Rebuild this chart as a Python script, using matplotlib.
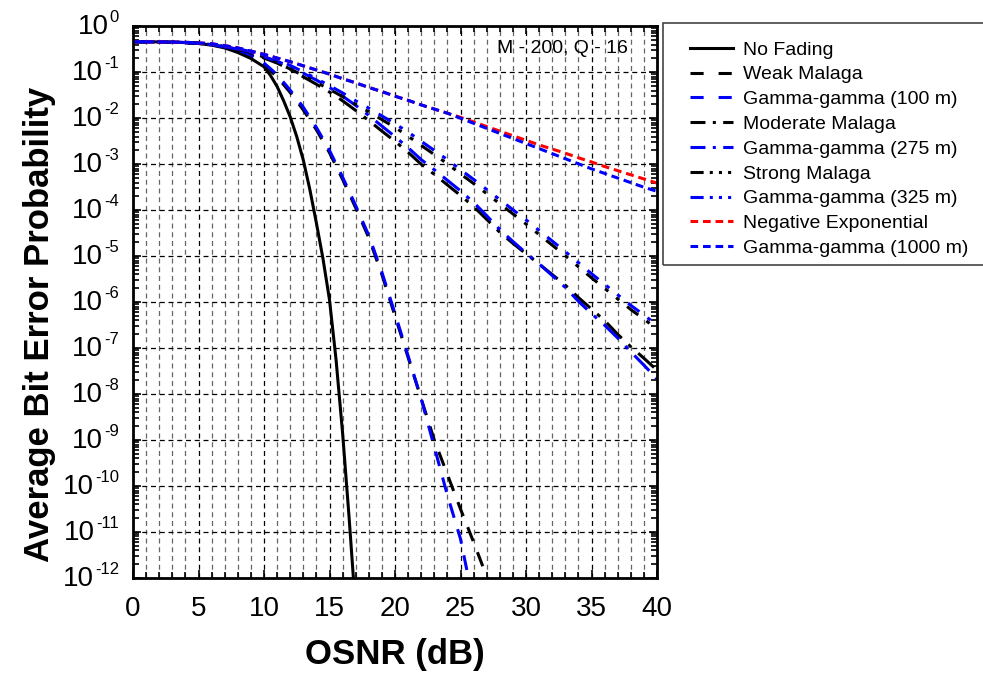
import numpy as np
import matplotlib
matplotlib.use("Agg")
import matplotlib.pyplot as plt
from matplotlib.ticker import FixedLocator, LogLocator, NullFormatter, MultipleLocator
from matplotlib.patches import Rectangle
from matplotlib.lines import Line2D

plt.rcParams['font.family'] = ['Liberation Sans', 'DejaVu Sans']
plt.rcParams['axes.unicode_minus'] = False

# ---------------- data (log10 of average BER) ----------------
x_nofading = [0, 1, 2, 3, 4, 5, 6, 7, 8, 9, 10, 10.5, 11, 11.5, 12, 12.5, 13, 13.5, 14, 14.5, 15, 15.5, 16, 16.5, 17]
nofading_log = [-0.335, -0.337, -0.34, -0.345, -0.355, -0.375, -0.41, -0.47, -0.57, -0.70, -0.88, -1.07, -1.31, -1.62,
                -1.97, -2.4, -2.91, -3.55, -4.28, -5.05, -5.95, -7.25, -8.85, -10.7, -12.7]

x_weak = list(range(0, 29))
weak_log = [-0.335, -0.337, -0.34, -0.345, -0.353, -0.37, -0.4, -0.45, -0.53, -0.65, -0.84, -1.1, -1.44, -1.82,
            -2.25, -2.75, -3.33, -3.95, -4.6, -5.4, -6.3, -7.2, -8.1, -9.0, -9.75, -10.5, -11.22, -11.97, -12.7]

x_gg100 = list(range(0, 27))
gg100_log = [-0.335, -0.337, -0.34, -0.345, -0.353, -0.37, -0.4, -0.45, -0.52, -0.62, -0.8, -1.05, -1.39, -1.76,
             -2.2, -2.7, -3.28, -3.9, -4.55, -5.35, -6.25, -7.17, -8.1, -9.15, -10.2, -11.15, -12.55]

x_mid = list(range(0, 41))
moderate_log = [-0.335, -0.337, -0.34, -0.345, -0.353, -0.37, -0.4, -0.44, -0.51, -0.59, -0.69, -0.8, -0.94,
                -1.1, -1.26, -1.43, -1.62, -1.83, -2.05, -2.28, -2.5, -2.74, -3.0, -3.22, -3.45, -3.68, -3.92,
                -4.2, -4.48, -4.72, -4.95, -5.17, -5.4, -5.63, -5.9, -6.15, -6.4, -6.7, -6.97, -7.22, -7.48]
gg275_log = [-0.335, -0.337, -0.34, -0.345, -0.353, -0.37, -0.4, -0.44, -0.5, -0.57, -0.66, -0.76, -0.88,
             -1.02, -1.17, -1.33, -1.52, -1.72, -1.94, -2.17, -2.4, -2.64, -2.9, -3.12, -3.35, -3.58, -3.83,
             -4.12, -4.42, -4.68, -4.93, -5.17, -5.42, -5.68, -5.98, -6.25, -6.5, -6.78, -7.08, -7.37, -7.67]
strong_log = [-0.335, -0.337, -0.34, -0.345, -0.353, -0.37, -0.4, -0.44, -0.5, -0.57, -0.67, -0.79, -0.93,
              -1.07, -1.22, -1.37, -1.53, -1.7, -1.86, -2.03, -2.2, -2.39, -2.59, -2.79, -2.99, -3.21, -3.42,
              -3.64, -3.86, -4.08, -4.3, -4.53, -4.76, -4.99, -5.23, -5.47, -5.7, -5.93, -6.16, -6.37, -6.58]
gg325_log = [-0.335, -0.337, -0.34, -0.345, -0.353, -0.37, -0.4, -0.44, -0.49, -0.55, -0.63, -0.73, -0.85,
             -0.99, -1.14, -1.29, -1.45, -1.62, -1.78, -1.95, -2.12, -2.3, -2.5, -2.7, -2.9, -3.12, -3.33,
             -3.55, -3.77, -3.99, -4.21, -4.44, -4.67, -4.9, -5.14, -5.38, -5.61, -5.84, -6.07, -6.28, -6.5]
negexp_log = [-0.335, -0.336, -0.338, -0.342, -0.348, -0.36, -0.38, -0.42, -0.47, -0.54, -0.61, -0.69, -0.77,
              -0.86, -0.95, -1.04, -1.14, -1.23, -1.33, -1.42, -1.52, -1.61, -1.71, -1.8, -1.89, -1.98, -2.08,
              -2.18, -2.28, -2.38, -2.48, -2.58, -2.67, -2.76, -2.86, -2.95, -3.05, -3.14, -3.23, -3.32, -3.41]
gg1000_log = [-0.335, -0.336, -0.338, -0.342, -0.348, -0.36, -0.38, -0.42, -0.47, -0.54, -0.61, -0.69, -0.77,
              -0.86, -0.95, -1.04, -1.14, -1.23, -1.33, -1.42, -1.52, -1.61, -1.71, -1.8, -1.89, -2.0, -2.11,
              -2.22, -2.33, -2.44, -2.55, -2.66, -2.77, -2.88, -2.99, -3.1, -3.2, -3.3, -3.4, -3.5, -3.59]

labels = ["No Fading", "Weak Malaga", "Gamma-gamma (100 m)", "Moderate Malaga", "Gamma-gamma (275 m)",
          "Strong Malaga", "Gamma-gamma (325 m)", "Negative Exponential", "Gamma-gamma (1000 m)"]
y_tick_exponents = list(range(0, -13, -1))
x_ticks = [0, 5, 10, 15, 20, 25, 30, 35, 40]
annotation = "M - 200, Q - 16"

# ---------------- styles ----------------
LW = 2.2
BLUE = '#0000ff'
RED = '#ff0000'
s_dash = (0, (4.9, 3.9))
s_dashdot = (0, (7.0, 3.0, 1.3, 3.0))
s_dashdotdot = (0, (4.6, 3.3, 1.3, 3.3, 1.3, 3.3))
s_short = (0, (2.6, 1.6))
# legend-handle patterns
l_dash = (0, (4.3, 4.9))
l_dashdot = (0, (4.9, 2.4, 1.0, 2.4))
l_dashdotdot = (0, (4.3, 2.0, 1.0, 2.0, 1.0, 2.0, 1.0, 2.0))
l_short = (0, (2.5, 1.6))

series = [
    (x_nofading, nofading_log, 'k', '-', '-'),
    (x_weak, weak_log, 'k', s_dash, l_dash),
    (x_gg100, gg100_log, BLUE, s_dash, l_dash),
    (x_mid, moderate_log, 'k', s_dashdot, l_dashdot),
    (x_mid, gg275_log, BLUE, s_dashdot, l_dashdot),
    (x_mid, strong_log, 'k', s_dashdotdot, l_dashdotdot),
    (x_mid, gg325_log, BLUE, s_dashdotdot, l_dashdotdot),
    (x_mid, negexp_log, RED, s_short, l_short),
    (x_mid, gg1000_log, BLUE, s_short, l_short),
]

W, H = 983, 674
fig = plt.figure(figsize=(W / 100, H / 100), dpi=100)
ax = fig.add_axes([133 / W, 1 - 578 / H, (657 - 133) / W, (578 - 26.3) / H])

handles = []
for (xs, ys, c, ls, lls), lab in zip(series, labels):
    ax.plot(xs, 10 ** np.asarray(ys), color=c, linestyle=ls, lw=LW)
    handles.append(Line2D([], [], color=c, linestyle=lls, lw=LW, label=lab))

ax.set_yscale('log')
ax.set_xlim(0, 40)
ax.set_ylim(1e-12, 1)

ax.xaxis.set_major_locator(FixedLocator(x_ticks))
ax.xaxis.set_minor_locator(MultipleLocator(1))
ax.yaxis.set_major_locator(FixedLocator([10.0 ** e for e in y_tick_exponents]))
ax.yaxis.set_minor_locator(LogLocator(base=10, subs=np.arange(2, 10), numticks=200))
ax.yaxis.set_minor_formatter(NullFormatter())
ax.yaxis.set_major_formatter(NullFormatter())

ax.tick_params(which='both', direction='in', top=True, right=True, labelsize=20, width=1.2)
ax.tick_params(which='major', length=6)
ax.tick_params(which='minor', length=4)
ax.tick_params(axis='x', pad=13)

ax.grid(True, which='major', axis='both', color='k', linestyle=(0, (4, 3)), lw=0.9)
ax.grid(True, which='minor', axis='x', color='#666666', linestyle=(0, (4, 3)), lw=0.9)
ax.set_axisbelow(True)

for sp in ax.spines.values():
    sp.set_linewidth(2)

# y tick labels: "10" with a small raised exponent
renderer = fig.canvas.get_renderer()
for e in y_tick_exponents:
    yv = 10.0 ** e
    et = ax.annotate(f"{e}", xy=(0, yv), xycoords=('axes fraction', 'data'), xytext=(-14, 1),
                     textcoords='offset pixels', ha='right', va='bottom', fontsize=12)
    wexp = et.get_window_extent(renderer).width
    ax.annotate("10", xy=(0, yv), xycoords=('axes fraction', 'data'), xytext=(-14 - wexp - 1, -1),
                textcoords='offset pixels', ha='right', va='center', fontsize=20)

ax.set_xlabel("OSNR (dB)", fontsize=25, fontweight='bold')
ax.set_ylabel("Average Bit Error Probability", fontsize=25, fontweight='bold')
ax.xaxis.set_label_coords(0.5, -0.108)
ax.yaxis.set_label_coords(-0.147, 0.459)

ax.text(0.945, 0.975, annotation, transform=ax.transAxes, ha='right', va='top', fontsize=14)

leg = fig.legend(handles=handles, loc='upper left', bbox_to_anchor=(690 / W, 1 - 41 / H),
                 bbox_transform=fig.transFigure, frameon=False, fontsize=14, borderpad=0,
                 borderaxespad=0, handlelength=2.2, handletextpad=0.55, labelspacing=0.37)
fig.add_artist(Rectangle((663 / W, 1 - 265 / H), (1000 - 663) / W, (265 - 23) / H,
                         transform=fig.transFigure, fill=False, edgecolor='#444444', lw=1.2, clip_on=False))

fig.savefig("out.png", dpi=100)
